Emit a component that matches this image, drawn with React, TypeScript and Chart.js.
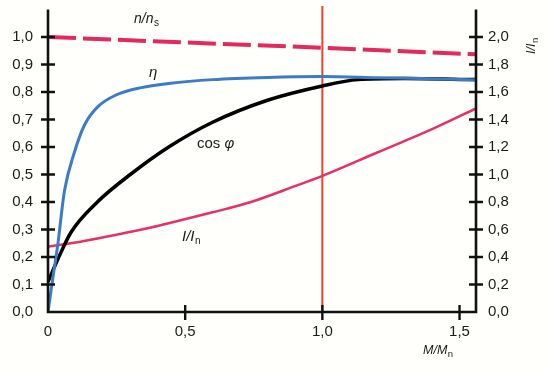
import React, { useEffect, useRef } from 'react';
import { Chart, registerables } from 'chart.js';

Chart.register(...registerables);

// x = M/Mn
const speedX = [0, 0.5, 1.0, 1.56];
const speedY = [1.0, 0.98, 0.961, 0.937];

const etaX = [0, 0.01, 0.02, 0.035, 0.06, 0.096, 0.133, 0.18, 0.25, 0.34, 0.44, 0.6, 0.8, 1.0, 1.2, 1.4, 1.56];
const etaY = [0, 0.07, 0.14, 0.24, 0.44, 0.58, 0.68, 0.745, 0.79, 0.816, 0.831, 0.845, 0.853, 0.856, 0.852, 0.848, 0.844];

const cosX = [0, 0.035, 0.084, 0.18, 0.3, 0.44, 0.6, 0.8, 1.0, 1.13, 1.3, 1.56];
const cosY = [0.11, 0.19, 0.29, 0.4, 0.5, 0.6, 0.69, 0.77, 0.822, 0.845, 0.849, 0.845];

// I/In (right axis)
const curX = [0, 0.1, 0.18, 0.376, 0.44, 0.6, 0.74, 0.9, 1.0, 1.2, 1.4, 1.56];
const curY = [0.475, 0.505, 0.535, 0.615, 0.645, 0.725, 0.8, 0.915, 0.99, 1.16, 1.33, 1.48];

const ratedX = [1.0, 1.0];
const ratedY = [0, 1.113];

const xTicks = [0, 0.5, 1.0, 1.5];
const xTickLabels = ['0', '0,5', '1,0', '1,5'];
const leftTicks = [0, 0.1, 0.2, 0.3, 0.4, 0.5, 0.6, 0.7, 0.8, 0.9, 1.0];
const leftTickLabels = ['0,0', '0,1', '0,2', '0,3', '0,4', '0,5', '0,6', '0,7', '0,8', '0,9', '1,0'];
const rightTicks = [0, 0.2, 0.4, 0.6, 0.8, 1.0, 1.2, 1.4, 1.6, 1.8, 2.0];
const rightTickLabels = ['0,0', '0,2', '0,4', '0,6', '0,8', '1,0', '1,2', '1,4', '1,6', '1,8', '2,0'];

const FONT = '"Liberation Sans", Arial, sans-serif';

const zip = (xs: number[], ys: number[]) => xs.map((x, i) => ({ x, y: ys[i] }));

const bgPlugin = {
  id: 'bg',
  beforeDraw(chart: any) {
    const ctx = chart.ctx;
    ctx.save();
    ctx.fillStyle = '#fffffb';
    ctx.fillRect(0, 0, chart.width, chart.height);
    ctx.restore();
  },
};

function subText(ctx: any, main: string, sub: string, x: number, y: number, size: number, subSize: number) {
  ctx.font = `italic ${size}px ${FONT}`;
  ctx.fillText(main, x, y);
  const w = ctx.measureText(main).width;
  ctx.font = `${subSize}px ${FONT}`;
  ctx.fillText(sub, x + w + 0.5, y + 2.5);
}

const axesPlugin = {
  id: 'axesDraw',
  afterDatasetsDraw(chart: any) {
    const { ctx, chartArea } = chart;
    const { left, right, top, bottom } = chartArea;
    const sx = chart.scales.x;
    const sy = chart.scales.y;
    const sy2 = chart.scales.y2;
    ctx.save();
    ctx.strokeStyle = '#111';
    ctx.lineWidth = 2.6;
    ctx.lineCap = 'butt';
    ctx.beginPath();
    ctx.moveTo(left, top);
    ctx.lineTo(left, bottom);
    ctx.lineTo(right, bottom);
    ctx.lineTo(right, top);
    ctx.stroke();
    ctx.lineWidth = 2.4;
    ctx.beginPath();
    leftTicks.forEach((v) => {
      const y = sy.getPixelForValue(v);
      if (v === 0) return;
      ctx.moveTo(left - 7, y);
      ctx.lineTo(left + 7, y);
    });
    rightTicks.forEach((v) => {
      const y = sy2.getPixelForValue(v);
      if (v === 0) return;
      ctx.moveTo(right - 7, y);
      ctx.lineTo(right + 7, y);
    });
    xTicks.forEach((v) => {
      if (v === 0) return;
      const x = sx.getPixelForValue(v);
      ctx.moveTo(x, bottom - 7);
      ctx.lineTo(x, bottom + 8);
    });
    ctx.stroke();

    // annotations
    ctx.fillStyle = '#1a1a1a';
    ctx.textBaseline = 'alphabetic';
    ctx.textAlign = 'left';
    subText(ctx, 'n/n', 's', 134, 23, 14, 10);
    ctx.font = `italic 15px ${FONT}`;
    ctx.fillText('η', 149, 77);
    ctx.font = `15px ${FONT}`;
    ctx.fillText('cos ', 197, 148);
    const cw = ctx.measureText('cos ').width;
    ctx.font = `italic 15px ${FONT}`;
    ctx.fillText('φ', 197 + cw, 148);
    subText(ctx, 'I/I', 'n', 182, 241, 15, 10);
    subText(ctx, 'M/M', 'n', 423, 354, 12.5, 9.5);
    ctx.save();
    ctx.translate(535, 54);
    ctx.rotate(-Math.PI / 2);
    subText(ctx, 'I/I', 'n', 0, 0, 12.5, 9.5);
    ctx.restore();
    ctx.restore();
  },
};

const zeroPad = (s: any) => {
  s.paddingTop = 0;
  s.paddingBottom = 0;
  s.paddingLeft = 0;
  s.paddingRight = 0;
};

export default function App() {
  const ref = useRef<HTMLCanvasElement | null>(null);
  useEffect(() => {
    if (!ref.current) return;
    const tickFont = { family: FONT, size: 15 };
    const chart = new Chart(ref.current, {
      type: 'line',
      data: {
        datasets: [
          {
            label: 'n/ns',
            data: zip(speedX, speedY),
            yAxisID: 'y',
            borderColor: '#e22a5c',
            borderWidth: 4,
            borderDash: [28, 7],
            pointRadius: 0,
            order: 1,
          },
          {
            label: 'eta',
            data: zip(etaX, etaY),
            yAxisID: 'y',
            borderColor: '#3b7cc6',
            borderWidth: 3,
            cubicInterpolationMode: 'monotone',
            pointRadius: 0,
            order: 2,
          },
          {
            label: 'cos phi',
            data: zip(cosX, cosY),
            yAxisID: 'y',
            borderColor: '#000000',
            borderWidth: 3.5,
            cubicInterpolationMode: 'monotone',
            pointRadius: 0,
            order: 3,
          },
          {
            label: 'I/In',
            data: zip(curX, curY),
            yAxisID: 'y2',
            borderColor: '#e5306a',
            borderWidth: 2.5,
            cubicInterpolationMode: 'monotone',
            pointRadius: 0,
            order: 4,
          },
          {
            label: 'rated',
            data: zip(ratedX, ratedY),
            yAxisID: 'y',
            borderColor: '#f2402a',
            borderWidth: 2,
            pointRadius: 0,
            clip: false as any,
            order: 5,
          },
        ],
      },
      options: {
        responsive: false,
        animation: false,
        devicePixelRatio: 1,
        layout: { padding: { top: 9.5, left: 0, right: 0, bottom: 0 } },
        plugins: { legend: { display: false }, tooltip: { enabled: false } },
        scales: {
          x: {
            type: 'linear',
            position: 'bottom',
            min: 0,
            max: 1.56,
            grid: { display: false, drawTicks: false },
            border: { display: false },
            afterBuildTicks: (s: any) => {
              s.ticks = xTicks.map((v) => ({ value: v }));
            },
            afterFit: (s: any) => {
              s.height = 64;
              zeroPad(s);
            },
            ticks: {
              font: tickFont,
              color: '#1a1a1a',
              padding: 11,
              maxRotation: 0,
              autoSkip: false,
              callback: (_v: any, i: number) => xTickLabels[i],
            },
          },
          y: {
            type: 'linear',
            position: 'left',
            min: 0,
            max: 1.1,
            grid: { display: false, drawTicks: false },
            border: { display: false },
            afterBuildTicks: (s: any) => {
              s.ticks = leftTicks.map((v) => ({ value: v }));
            },
            afterFit: (s: any) => {
              s.width = 48;
              zeroPad(s);
            },
            ticks: {
              font: tickFont,
              color: '#1a1a1a',
              padding: 15,
              autoSkip: false,
              callback: (_v: any, i: number) => leftTickLabels[i],
            },
          },
          y2: {
            type: 'linear',
            position: 'right',
            min: 0,
            max: 2.2,
            grid: { display: false, drawTicks: false },
            border: { display: false },
            afterBuildTicks: (s: any) => {
              s.ticks = rightTicks.map((v) => ({ value: v }));
            },
            afterFit: (s: any) => {
              s.width = 72;
              zeroPad(s);
            },
            ticks: {
              font: tickFont,
              color: '#1a1a1a',
              padding: 12,
              autoSkip: false,
              callback: (_v: any, i: number) => rightTickLabels[i],
            },
          },
        },
      } as any,
      plugins: [bgPlugin, axesPlugin],
    });
    return () => chart.destroy();
  }, []);
  return (
    <div style={{ position: 'absolute', left: 0, top: 0, width: 548, height: 376 }}>
      <canvas ref={ref} width={548} height={376} style={{ width: 548, height: 376 }} />
    </div>
  );
}
